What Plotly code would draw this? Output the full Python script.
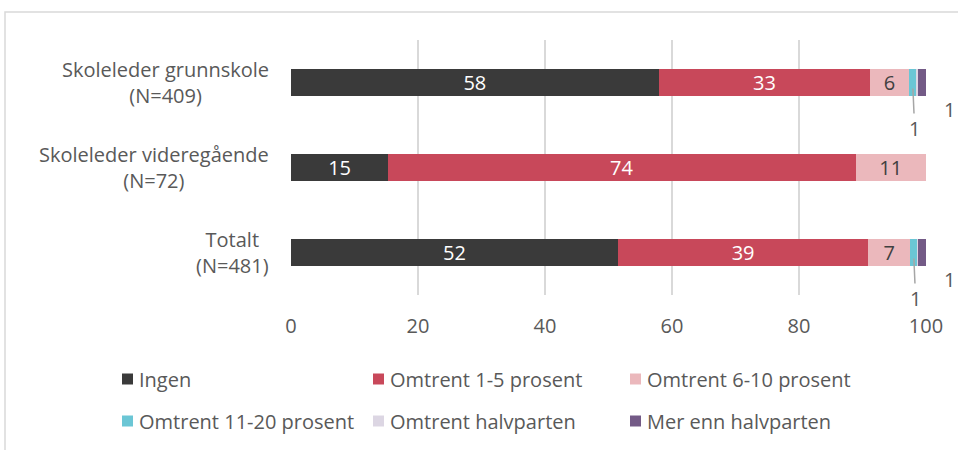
import plotly.graph_objects as go

# Survey groups (top to bottom) and answer shares in percent
groups = ["Skoleleder grunnskole", "Skoleleder videregående", "Totalt"]
group_n = ["(N=409)", "(N=72)", "(N=481)"]
series_names = ["Ingen", "Omtrent 1-5 prosent", "Omtrent 6-10 prosent",
                "Omtrent 11-20 prosent", "Omtrent halvparten", "Mer enn halvparten"]
ingen = [57.9, 15.3, 51.5]
omtrent_1_5 = [33.3, 73.6, 39.4]
omtrent_6_10 = [6.1, 11.1, 6.6]
omtrent_11_20 = [1.2, 0.0, 1.1]
omtrent_halvparten = [0.3, 0.0, 0.2]
mer_enn_halvparten = [1.2, 0.0, 1.2]
x_ticks = [0, 20, 40, 60, 80, 100]

series_values = [ingen, omtrent_1_5, omtrent_6_10, omtrent_11_20,
                 omtrent_halvparten, mer_enn_halvparten]
colors = ["#3a3a3a", "#c8485a", "#ebb8bc", "#6bc6d5", "#dcd6e3", "#735a86"]
text_colors = ["#ffffff", "#ffffff", "#404040", "#404040", "#404040", "#404040"]
FONT = "Open Sans, sans-serif"
GREY = "#595959"
FS = 20

# Plot area in pixels
W, H = 958, 450
L, R, T, B = 291, 926, 40, 295

fig = go.Figure()
for name, vals, col, tcol in zip(series_names, series_values, colors, text_colors):
    fig.add_trace(go.Bar(
        y=groups, x=vals, name=name, orientation="h",
        marker=dict(color=col, line=dict(width=0)),
        text=[f"{v:.0f}" if v >= 3 else "" for v in vals],
        textposition="inside", insidetextanchor="middle", textangle=0,
        textfont=dict(color=tcol, size=FS, family=FONT),
        constraintext="none", showlegend=False, hoverinfo="x+name",
    ))

annotations = []
# Group labels, two centered lines to the left of the bars
for g, n in zip(groups, group_n):
    annotations.append(dict(
        x=0, y=g, xref="x", yref="y", text=g + "<br>" + n, showarrow=False,
        xanchor="right", align="center", xshift=-20,
        font=dict(size=FS, color=GREY, family=FONT)))

# Callout labels for the thin segments at the right end of the bars
for i, g in enumerate(groups):
    start_cyan = ingen[i] + omtrent_1_5[i] + omtrent_6_10[i]
    if omtrent_11_20[i] > 0:
        annotations.append(dict(
            x=start_cyan + omtrent_11_20[i] / 2, y=g, xref="x", yref="y",
            text=f"{omtrent_11_20[i]:.0f}", showarrow=True, arrowhead=0,
            arrowcolor="#a6a6a6", arrowwidth=1.5, ax=2, ay=46, standoff=6,
            font=dict(size=FS, color=GREY, family=FONT)))
    if mer_enn_halvparten[i] > 0:
        end = start_cyan + omtrent_11_20[i] + omtrent_halvparten[i]
        annotations.append(dict(
            x=end + mer_enn_halvparten[i] / 2, y=g, xref="x", yref="y",
            text=f"{mer_enn_halvparten[i]:.0f}", showarrow=False,
            xshift=27, yshift=-27,
            font=dict(size=FS, color=GREY, family=FONT)))


def px_x(px):
    return (px - L) / (R - L)


def px_y(py):
    return 1 - (py - T) / (B - T)


# Legend drawn as square swatches with text, two rows of three
shapes = []
legend_cols = [122, 373, 630]
legend_rows = [379, 421]
for k, (name, col) in enumerate(zip(series_names, colors)):
    px = legend_cols[k % 3]
    py = legend_rows[k // 3]
    shapes.append(dict(type="rect", xref="paper", yref="paper",
                       x0=px_x(px), x1=px_x(px + 11),
                       y0=px_y(py + 5.5), y1=px_y(py - 5.5),
                       line=dict(width=0), fillcolor=col))
    annotations.append(dict(
        x=px_x(px + 15), y=px_y(py), xref="paper", yref="paper",
        text=name, showarrow=False, xanchor="left", yanchor="middle",
        font=dict(size=FS, color=GREY, family=FONT)))

# Thin outer frame around the chart
shapes.append(dict(type="rect", xref="paper", yref="paper",
                   x0=px_x(5), x1=px_x(962), y0=px_y(462), y1=px_y(12),
                   line=dict(color="#d9d9d9", width=1.5),
                   fillcolor="rgba(0,0,0,0)"))

fig.update_layout(
    width=W, height=H, barmode="stack", bargap=0.68,
    margin=dict(l=L, r=W - R, t=T, b=H - B, autoexpand=False),
    plot_bgcolor="white", paper_bgcolor="white",
    font=dict(family=FONT, color=GREY, size=FS),
    xaxis=dict(range=[0, 100], tickvals=x_ticks, showgrid=True,
               gridcolor="#d9d9d9", gridwidth=1.5, zeroline=False,
               showline=False, ticks="", ticklabelstandoff=17,
               tickfont=dict(size=FS, color=GREY), fixedrange=True),
    yaxis=dict(categoryorder="array", categoryarray=groups[::-1],
               range=[-0.5, 2.5], showticklabels=False, showgrid=False,
               zeroline=False, showline=False, ticks="", fixedrange=True),
    annotations=annotations, shapes=shapes, showlegend=False,
)

fig.write_html("out.html")
